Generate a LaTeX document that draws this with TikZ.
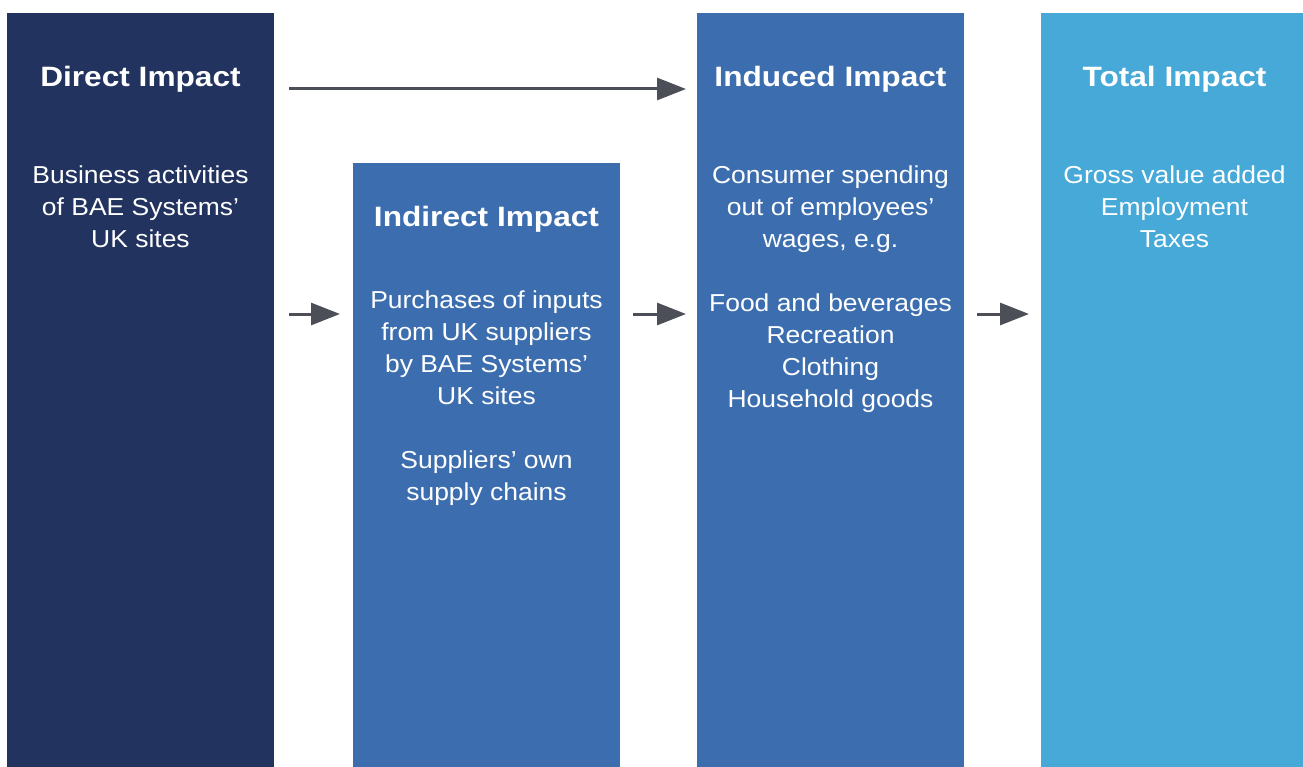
\documentclass[tikz,border=0pt]{standalone}
\usepackage{fontspec}
\setmainfont{Liberation Sans}
\newfontfamily\bodyfont[FakeStretch=1.08]{Liberation Sans}
\newfontfamily\titlefont[FakeStretch=1.13]{Liberation Sans}
\usetikzlibrary{arrows.meta}
\definecolor{navy}{RGB}{33,51,94}
\definecolor{midblue}{RGB}{60,110,175}
\definecolor{lightblue}{RGB}{70,169,216}
\definecolor{arrowgray}{RGB}{76,79,87}
\tikzset{
  col/.style={draw=none, inner sep=0pt, minimum width=267pt, anchor=north west},
  ttl/.style={text=white, inner sep=0pt, anchor=base, font=\titlefont\bfseries\fontsize{28}{34}\selectfont},
  body/.style={text=white, inner sep=0pt, anchor=base, align=center, font=\bodyfont\fontsize{24.5}{32}\selectfont},
  arr/.style={draw=arrowgray, line width=3pt, -{Triangle[length=29pt,width=22pt]}}
}
\begin{document}
\begin{tikzpicture}[x=1pt,y=-1pt]
\useasboundingbox (0,0) rectangle (1303,767);
\node[col, fill=navy, minimum height=754pt] (direct) at (7,13) {};
\node[col, fill=midblue, minimum height=604pt] (indirect) at (353,163) {};
\node[col, fill=midblue, minimum height=754pt] (induced) at (697,13) {};
\node[col, fill=lightblue, minimum height=754pt] (total) at (1041,13) {};

\node[ttl] (t1) at (140.5,87) {Direct Impact};
\node[ttl] (t2) at (486.5,227) {Indirect Impact};
\node[ttl] (t3) at (830.5,87) {Induced Impact};
\node[ttl] (t4) at (1174.5,87) {Total Impact};

% anchor=base is the baseline of the last line
\node[body] (b1) at (140.5,247.3) {Business activities\\of BAE Systems’\\UK sites};
\node[body] (b2) at (486.5,500.3) {Purchases of inputs\\from UK suppliers\\by BAE Systems’\\UK sites\\[32pt]Suppliers’ own\\supply chains};
\node[body] (b3) at (830.5,407.3) {Consumer spending\\out of employees’\\wages, e.g.\\[32pt]Food and beverages\\Recreation\\Clothing\\Household goods};
\node[body] (b4) at (1174.5,247.3) {Gross value added\\Employment\\Taxes};

\coordinate (ytop) at (0,89);
\coordinate (ymid) at (0,314);
\draw[arr, shorten <=15pt, shorten >=11pt] (direct.east |- ytop) -- (induced.west |- ytop);
\draw[arr, shorten <=15pt, shorten >=13pt] (direct.east |- ymid) -- (indirect.west |- ymid);
\draw[arr, shorten <=13pt, shorten >=11pt] (indirect.east |- ymid) -- (induced.west |- ymid);
\draw[arr, shorten <=13pt, shorten >=12pt] (induced.east |- ymid) -- (total.west |- ymid);
\end{tikzpicture}
\end{document}
